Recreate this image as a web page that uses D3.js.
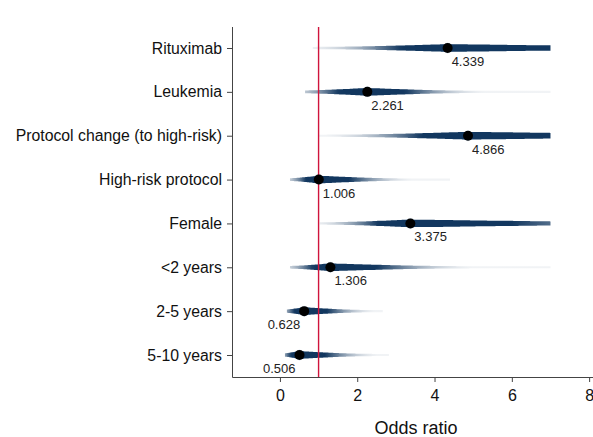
<!DOCTYPE html>
<meta charset="utf-8">
<head>
    <title>Odds ratio density strips</title>
    <script type="text/javascript" src="https://d3js.org/d3.v7.min.js"></script>
    <style>
        body { margin: 0; background: #fff; }
        svg { display: block; font-family: "Liberation Sans", Arial, sans-serif; }
        .axis line { stroke: #444; }
        .axis .domain { display: none; }
    </style>
</head>
<body>
<div id="chart"></div>
<script>

// data
var labels    = ["Rituximab", "Leukemia", "Protocol change (to high-risk)", "High-risk protocol",
                 "Female", "<2 years", "2-5 years", "5-10 years"];
var estimates = [4.339, 2.261, 4.866, 1.006, 3.375, 1.306, 0.628, 0.506];
var ciLow     = [1.5, 0.5, 2.0, 0.22, 1.4, 0.23, 0.04, 0.0];
var ciHigh    = [11.2, 4.6, 11.7, 2.87, 9.6, 4.15, 2.04, 2.07];
var stripFrom = [0.85, 0.65, 1.0, 0.26, 1.03, 0.26, 0.18, 0.13];
var stripTo   = [7.0, 7.0, 7.0, 4.4, 7.0, 7.0, 2.66, 2.82];
var xTicks    = [0, 2, 4, 6, 8];
var refValue  = 1;

var width = 593, height = 437;
var plotLeft = 232, plotRight = 593, plotTop = 27, plotBottom = 377;

var svg = d3.select("#chart").append("svg")
    .attr("width", width)
    .attr("height", height);

var x = d3.scaleLinear().domain([-1.24, 8.1]).range([plotLeft, plotRight]);
var y = d3.scalePoint().domain(labels).range([48, 355]);

var rows = labels.map(function(l, i) {
    return {label: l, est: estimates[i], lo: ciLow[i], hi: ciHigh[i],
            from: stripFrom[i], to: stripTo[i]};
});

// split normal density around the estimate (1 at the estimate)
function dens(r, v) {
    var s = v < r.est ? (r.est - r.lo) / 1.96 : (r.hi - r.est) / 1.96;
    var z = (v - r.est) / s;
    return Math.exp(-0.5 * z * z);
}
function shade(d) { return Math.max(0.06, Math.min(1, 1.4 * d)); }

var stripColor = "#12375f";
var defs = svg.append("defs");

rows.forEach(function(r, i) {
    var g = defs.append("linearGradient")
        .attr("id", "grad" + i)
        .attr("gradientUnits", "userSpaceOnUse")
        .attr("x1", x(r.from)).attr("x2", x(r.to))
        .attr("y1", 0).attr("y2", 0);
    d3.range(0, 61).forEach(function(k) {
        var v = r.from + (r.to - r.from) * k / 60;
        g.append("stop")
            .attr("offset", (k / 60 * 100) + "%")
            .attr("stop-color", stripColor)
            .attr("stop-opacity", shade(dens(r, v)));
    });
});

// axes
var yAxis = svg.append("g")
    .attr("class", "axis")
    .attr("transform", "translate(" + plotLeft + ",0)")
    .call(d3.axisLeft(y).tickSize(5).tickPadding(5).tickSizeOuter(0));
yAxis.selectAll("text")
    .style("font-size", "15.8px")
    .style("fill", "#111");

var xAxis = svg.append("g")
    .attr("class", "axis")
    .attr("transform", "translate(0," + plotBottom + ")")
    .call(d3.axisBottom(x).tickValues(xTicks).tickSize(5).tickPadding(8).tickSizeOuter(0));
xAxis.selectAll("text")
    .style("font-size", "16px")
    .style("fill", "#111");

// axis lines
svg.append("path")
    .attr("d", "M" + (plotLeft + 0.5) + "," + plotTop + "V" + (plotBottom + 0.5) + "H" + plotRight)
    .style("fill", "none")
    .style("stroke", "#444")
    .style("stroke-width", 1);

svg.append("text")
    .attr("x", 416)
    .attr("y", 434)
    .attr("text-anchor", "middle")
    .style("font-size", "18px")
    .style("fill", "#111")
    .text("Odds ratio");

// halo around each estimate
svg.append("g").selectAll("path")
    .data(rows)
    .enter().append("path")
    .attr("d", function(r) {
        var cx = x(r.est), cy = y(r.label);
        return "M" + (cx - 13) + "," + cy + "L" + cx + "," + (cy - 5.5) +
               "L" + (cx + 13) + "," + cy + "L" + cx + "," + (cy + 5.5) + "Z";
    })
    .style("fill", "#c5d7ea")
    .style("opacity", 0.8);

// density strips
var strips = svg.append("g");
rows.forEach(function(r, i) {
    var pts = d3.range(0, 151).map(function(k) { return r.from + (r.to - r.from) * k / 150; });
    var cy = y(r.label);
    function half(v) {
        var d = dens(r, v);
        return 1.0 + 1.4 * shade(d) + 1.3 * Math.pow(d, 6);
    }
    var area = d3.area()
        .x(function(v) { return x(v); })
        .y0(function(v) { return cy - half(v); })
        .y1(function(v) { return cy + half(v); })
        .curve(d3.curveBasis);
    strips.append("path")
        .datum(pts)
        .attr("d", area)
        .style("fill", "url(#grad" + i + ")");
});

// reference line at OR = 1
svg.append("line")
    .attr("x1", x(refValue)).attr("x2", x(refValue))
    .attr("y1", plotTop).attr("y2", plotBottom)
    .style("stroke", "#d0143c")
    .style("stroke-width", 1.4);

// point estimates
svg.append("g").selectAll("circle")
    .data(rows)
    .enter().append("circle")
    .attr("cx", function(r) { return x(r.est); })
    .attr("cy", function(r) { return y(r.label); })
    .attr("r", 5)
    .style("fill", "#000");

svg.append("g").selectAll("text")
    .data(rows)
    .enter().append("text")
    .attr("x", function(r) { return r.est < 0.8 ? x(r.est) - 4 : x(r.est) + 4; })
    .attr("y", function(r) { return y(r.label) + 18; })
    .attr("text-anchor", function(r) { return r.est < 0.8 ? "end" : "start"; })
    .style("font-size", "13px")
    .style("fill", "#222")
    .text(function(r) { return d3.format(".3f")(r.est); });

</script>
</body>
</html>
